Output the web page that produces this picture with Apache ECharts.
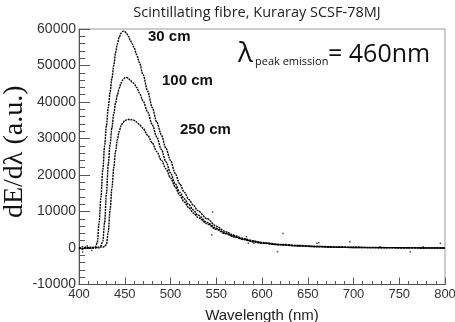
<!DOCTYPE html>
<html>
<head>
<meta charset="utf-8">
<script src="https://cdn.jsdelivr.net/npm/echarts@6/dist/echarts.min.js"></script>
<style>
  html, body { margin: 0; padding: 0; background: #fff; }
  #chart { width: 455px; height: 322px; }
</style>
</head>
<body>
<div id="chart"></div>
<script>
// wavelength samples (nm)
const wavelength = [400, 404, 408, 412, 416, 418, 420, 422, 424, 426, 428, 430, 432, 434, 436, 438, 440, 442, 444, 446, 448, 450, 452, 454, 456, 458, 460, 463, 466, 470, 475, 480, 485, 490, 495, 500, 505, 510, 515, 520, 525, 530, 540, 550, 560, 570, 580, 590, 600, 620, 640, 660, 680, 700, 720, 740, 760, 780, 800];
const fibre30 = [200, -300, 100, 0, 200, 300, 1500, 7000, 14000, 21500, 28000, 33500, 38500, 42800, 46500, 50000, 53500, 56000, 57800, 58900, 59400, 59300, 58800, 58000, 57000, 56000, 55000, 53000, 50800, 47500, 43000, 38500, 34500, 31000, 27300, 24000, 20500, 17600, 15300, 13300, 11700, 10200, 8000, 6000, 4500, 3400, 2600, 2000, 1500, 1000, 700, 450, 300, 200, 150, 100, 50, 50, 0];
const fibre100 = [-200, 300, -100, 200, 0, 100, 200, 300, 600, 1800, 7000, 15000, 23000, 28500, 33000, 36800, 39800, 42000, 43800, 45200, 46100, 46600, 46700, 46400, 46000, 45500, 45100, 44000, 42500, 40300, 37300, 33800, 30400, 27000, 23600, 20600, 17700, 15300, 13500, 11900, 10400, 9000, 7000, 5400, 4100, 3100, 2400, 1800, 1400, 900, 600, 400, 250, 150, 100, 100, 50, 0, 0];
const fibre250 = [0, -200, 300, -100, 100, 0, 200, 0, 300, 200, 400, 1000, 4500, 10500, 16500, 22000, 26500, 29800, 32000, 33500, 34400, 34900, 35100, 35200, 35200, 35100, 35000, 34500, 33800, 32800, 30900, 28800, 26400, 24000, 21700, 19200, 16800, 14500, 12600, 11000, 9600, 8400, 6600, 5100, 3900, 3000, 2300, 1700, 1300, 850, 550, 350, 220, 130, 100, 50, 50, 0, 0];
// stray measurement points
const strayWl = [404, 409, 414, 545, 546, 569, 583, 585, 591, 617, 623, 660, 662, 696, 729, 762, 776, 795];
const strayVal = [-1100, 600, -700, 3600, 9900, 3600, 3100, 1300, 1300, -1000, 4000, 1300, 1450, 1700, 350, -1000, 350, 1300];
const curveLabels = ['30 cm', '100 cm', '250 cm'];

const pairs = (xs, ys) => xs.map((x, i) => [x, ys[i]]);

const chart = echarts.init(document.getElementById('chart'));

const curve = (name, values) => ({
    name: name,
    type: 'line',
    data: pairs(wavelength, values),
    symbol: 'none',
    smooth: 0.3,
    smoothMonotone: 'x',
    lineStyle: { color: '#000', width: 1.4, type: [2, 0.8] },
    z: 3
});

const labelFont = 'Liberation Sans';
const annText = (x, y, text) => ({
    type: 'text', x: x, y: y,
    style: { text: text, font: 'bold 15px "Liberation Sans"', fill: '#111', textVerticalAlign: 'middle' }
});

chart.setOption({
    animation: false,
    backgroundColor: '#fff',
    grid: {
        left: 79, right: 10, top: 29, bottom: 37.5,
        show: true, borderColor: '#999', borderWidth: 1,
        outerBoundsMode: 'none'
    },
    xAxis: {
        type: 'value', min: 400, max: 800, interval: 50,
        name: 'Wavelength (nm)', nameLocation: 'middle', nameGap: 24,
        nameTextStyle: { fontFamily: labelFont, fontSize: 15, color: '#222' },
        axisLine: { onZero: false, lineStyle: { color: '#555', width: 1 } },
        axisTick: { inside: true, length: 7, lineStyle: { color: '#555' } },
        minorTick: { show: true, splitNumber: 5, length: 3.5, lineStyle: { color: '#555' } },
        splitLine: { show: false },
        axisLabel: { fontFamily: labelFont, fontSize: 13, color: '#333', margin: 3, formatter: v => String(v) }
    },
    yAxis: {
        type: 'value', min: -10000, max: 60000, interval: 10000,
        name: 'dE/dλ (a.u.)', nameLocation: 'middle', nameGap: 50, nameRotate: 90,
        nameMoveOverlap: false,
        nameTextStyle: { fontFamily: 'Liberation Serif', fontSize: 28, color: '#111', padding: [0, 0, 0, 10] },
        axisLine: { show: true, onZero: false, lineStyle: { color: '#555', width: 1 } },
        axisTick: { inside: true, length: 11, lineStyle: { color: '#555' } },
        minorTick: { show: true, splitNumber: 5, length: 6, lineStyle: { color: '#555' } },
        splitLine: { show: false },
        axisLabel: { fontFamily: labelFont, fontSize: 14, color: '#333', margin: 3, formatter: v => String(v) }
    },
    series: [
        curve(curveLabels[0], fibre30),
        curve(curveLabels[1], fibre100),
        curve(curveLabels[2], fibre250),
        {
            type: 'scatter',
            data: pairs(strayWl, strayVal),
            symbol: 'rect', symbolSize: 1.5,
            itemStyle: { color: '#222' }
        }
    ],
    graphic: [
        {
            type: 'text', x: 257, y: 13,
            style: {
                text: 'Scintillating fibre, Kuraray SCSF-78MJ',
                font: '14.5px "Open Sans"', fill: '#222',
                textAlign: 'center', textVerticalAlign: 'middle'
            }
        },
        annText(148, 37, curveLabels[0]),
        annText(162, 81, curveLabels[1]),
        annText(180, 130, curveLabels[2]),
        {
            type: 'text', x: 238, y: 54,
            style: { text: 'λ', font: '28px "Open Sans"', fill: '#111', textVerticalAlign: 'middle' }
        },
        {
            type: 'text', x: 255, y: 62,
            style: { text: 'peak emission', font: '11px "Open Sans"', fill: '#111', textVerticalAlign: 'middle' }
        },
        {
            type: 'text', x: 328, y: 55,
            style: { text: '= 460nm', font: '25px "Open Sans"', fill: '#111', textVerticalAlign: 'middle' }
        }
    ]
});
</script>
</body>
</html>
